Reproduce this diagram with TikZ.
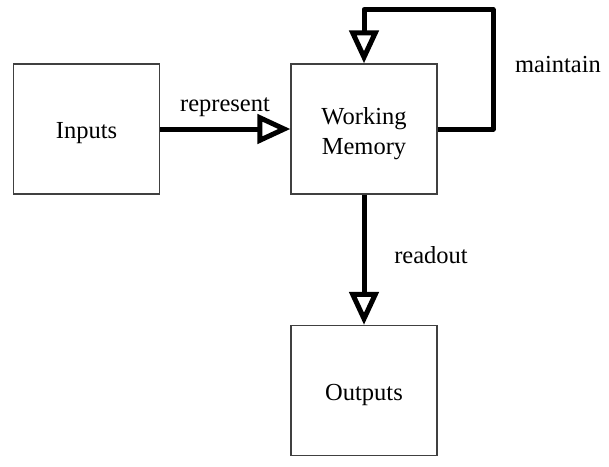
\documentclass[tikz,border=0pt]{standalone}
\usepackage{fontspec}
\setmainfont{Liberation Serif}
\usetikzlibrary{arrows.meta}
\begin{document}
\begin{tikzpicture}[x=1pt,y=-1pt,
  blk/.style={draw=black!75,line width=1.3pt,minimum width=146pt,minimum height=130pt,inner sep=0pt},
  txt/.style={align=center,inner sep=0pt,yshift=-4.5pt,font=\fontsize{24.5}{30}\selectfont},
  arr/.style={line width=5pt,line join=round,-{Triangle[open,length=33pt,width=29pt]}},
  lbl/.style={font=\fontsize{24.5}{30}\selectfont,inner sep=0pt}]
\useasboundingbox (0,0) rectangle (609,466);
\node[blk,label={[txt,name=tin]center:Inputs}] (in) at (86.5,129) {};
\node[blk,label={[txt,name=twm]center:Working\\Memory}] (wm) at (364,129) {};
\node[blk,label={[txt,name=tout]center:Outputs}] (out) at (364,390.5) {};
\coordinate (c1) at (493,9.5);
\draw[arr] (in) -- (wm);
\draw[arr] (wm.east) -| (c1) -| (wm.north);
\draw[arr] (wm) -- (out);
\node[lbl,anchor=base] (l1) at (225,111) {represent};
\node[lbl,anchor=base] (l2) at (558,72) {maintain};
\node[lbl,anchor=base] (l3) at (431,263) {readout};
\end{tikzpicture}
\end{document}
